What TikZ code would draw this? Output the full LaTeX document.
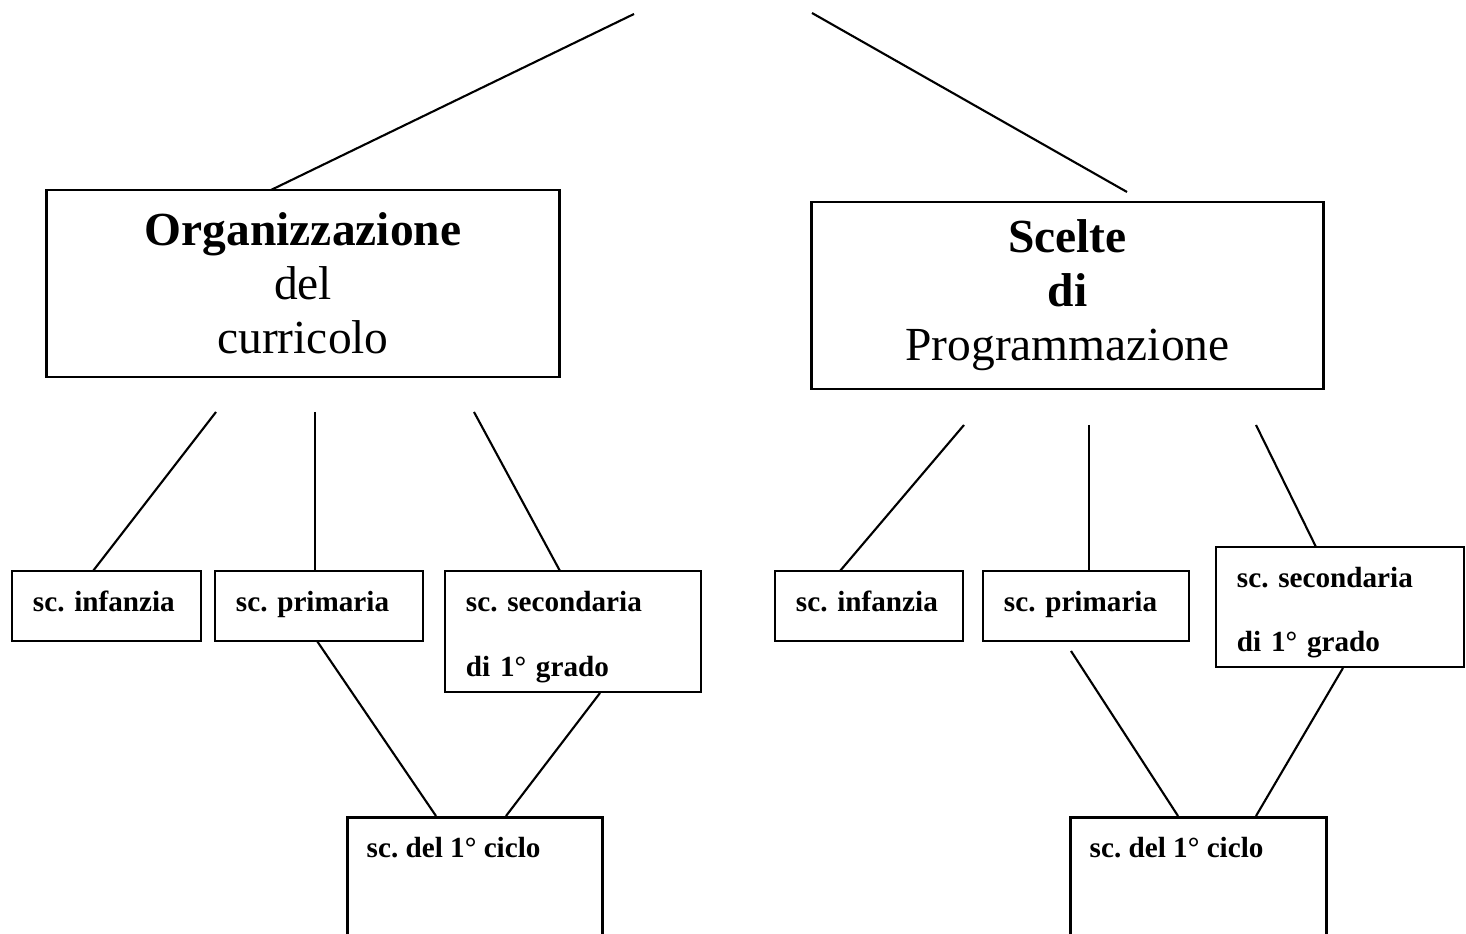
\documentclass[tikz,border=0pt]{standalone}
\usepackage{fontspec}
\setmainfont{Liberation Serif}
\usetikzlibrary{positioning}
\frenchspacing
\hyphenpenalty=10000
\tikzset{
  box/.style={draw, line width=0.8pt, inner sep=0pt},
  bigbox/.style={box, align=center, font=\fontsize{13.5}{15.4}\selectfont,
    minimum width=5.12cm, minimum height=1.87cm},
  sbox/.style={box, align=left, inner xsep=0.21cm, text width=#1,
    font=\fontsize{8.3}{18.3}\selectfont\bfseries, minimum height=0.7cm,
    text height=6pt, text depth=2.6pt},
  tbox/.style={sbox=#1, text height=6pt, text depth=17.1pt},
  stxt/.style={font=\fontsize{8.3}{10}\selectfont\bfseries, inner sep=0pt, anchor=west},
  ln/.style={line width=0.6pt}
}
\begin{document}
\begin{tikzpicture}[x=0.01cm, y=-0.01cm]
    \useasboundingbox (0,0) rectangle (1466,934);
    \node[bigbox] (org) at (303,283.5) {\textbf{Organizzazione}\\del\\curricolo};
    \node[bigbox] (sce) at (1067.5,295.5) {\textbf{Scelte}\\\textbf{di}\\Programmazione};
    \node[sbox=1.47cm] (linf) at (106.5,606) {sc. infanzia};
    \node[sbox=1.66cm] (lpri) at (319,606) {sc. primaria};
    \node[tbox=2.14cm, minimum height=1.21cm] (lsec) at (573,631.5) {sc. secondaria\\di 1° grado};
    \node[sbox=1.46cm] (rinf) at (869,606) {sc. infanzia};
    \node[sbox=1.64cm] (rpri) at (1086,606) {sc. primaria};
    \node[tbox=2.06cm, minimum height=1.2cm] (rsec) at (1340,607) {sc. secondaria\\di 1° grado};
    \node[box, anchor=north west, minimum width=2.55cm, minimum height=1.6cm] (lcic) at (346,816) {};
    \node[box, anchor=north west, minimum width=2.56cm, minimum height=1.6cm] (rcic) at (1069,816) {};
    \node[stxt] (lcict) at ([shift={(20,32)}]lcic.north west) {sc. del 1° ciclo};
    \node[stxt] (rcict) at ([shift={(20,32)}]rcic.north west) {sc. del 1° ciclo};
    \coordinate (tl) at (634,14);
    \coordinate (tr) at (812,13);
    \coordinate (orgt) at (271,190);
    \coordinate (scet) at (1127,192);
    \coordinate (org1) at (216,412);
    \coordinate (org2) at (315,412);
    \coordinate (org3) at (474,412);
    \coordinate (linft) at (93,571);
    \coordinate (lprit) at (315,571);
    \coordinate (lsect) at (560,571);
    \coordinate (sce1) at (964,425);
    \coordinate (sce2) at (1089,425);
    \coordinate (sce3) at (1256,425);
    \coordinate (rinft) at (840,571);
    \coordinate (rprit) at (1089,571);
    \coordinate (rsect) at (1316,547);
    \coordinate (lprib) at (317,641);
    \coordinate (lsecb) at (600,693);
    \coordinate (lcic1) at (436,816);
    \coordinate (lcic2) at (506,816);
    \coordinate (rprib) at (1071,651);
    \coordinate (rsecb) at (1343,668);
    \coordinate (rcic1) at (1178,816);
    \coordinate (rcic2) at (1256,816);
    \draw[ln] (tl) -- (orgt);
    \draw[ln] (tr) -- (scet);
    \draw[ln] (org1) -- (linft);
    \draw[ln] (org2) -- (lprit);
    \draw[ln] (org3) -- (lsect);
    \draw[ln] (sce1) -- (rinft);
    \draw[ln] (sce2) -- (rprit);
    \draw[ln] (sce3) -- (rsect);
    \draw[ln] (lprib) -- (lcic1);
    \draw[ln] (lsecb) -- (lcic2);
    \draw[ln] (rprib) -- (rcic1);
    \draw[ln] (rsecb) -- (rcic2);
\end{tikzpicture}
\end{document}
